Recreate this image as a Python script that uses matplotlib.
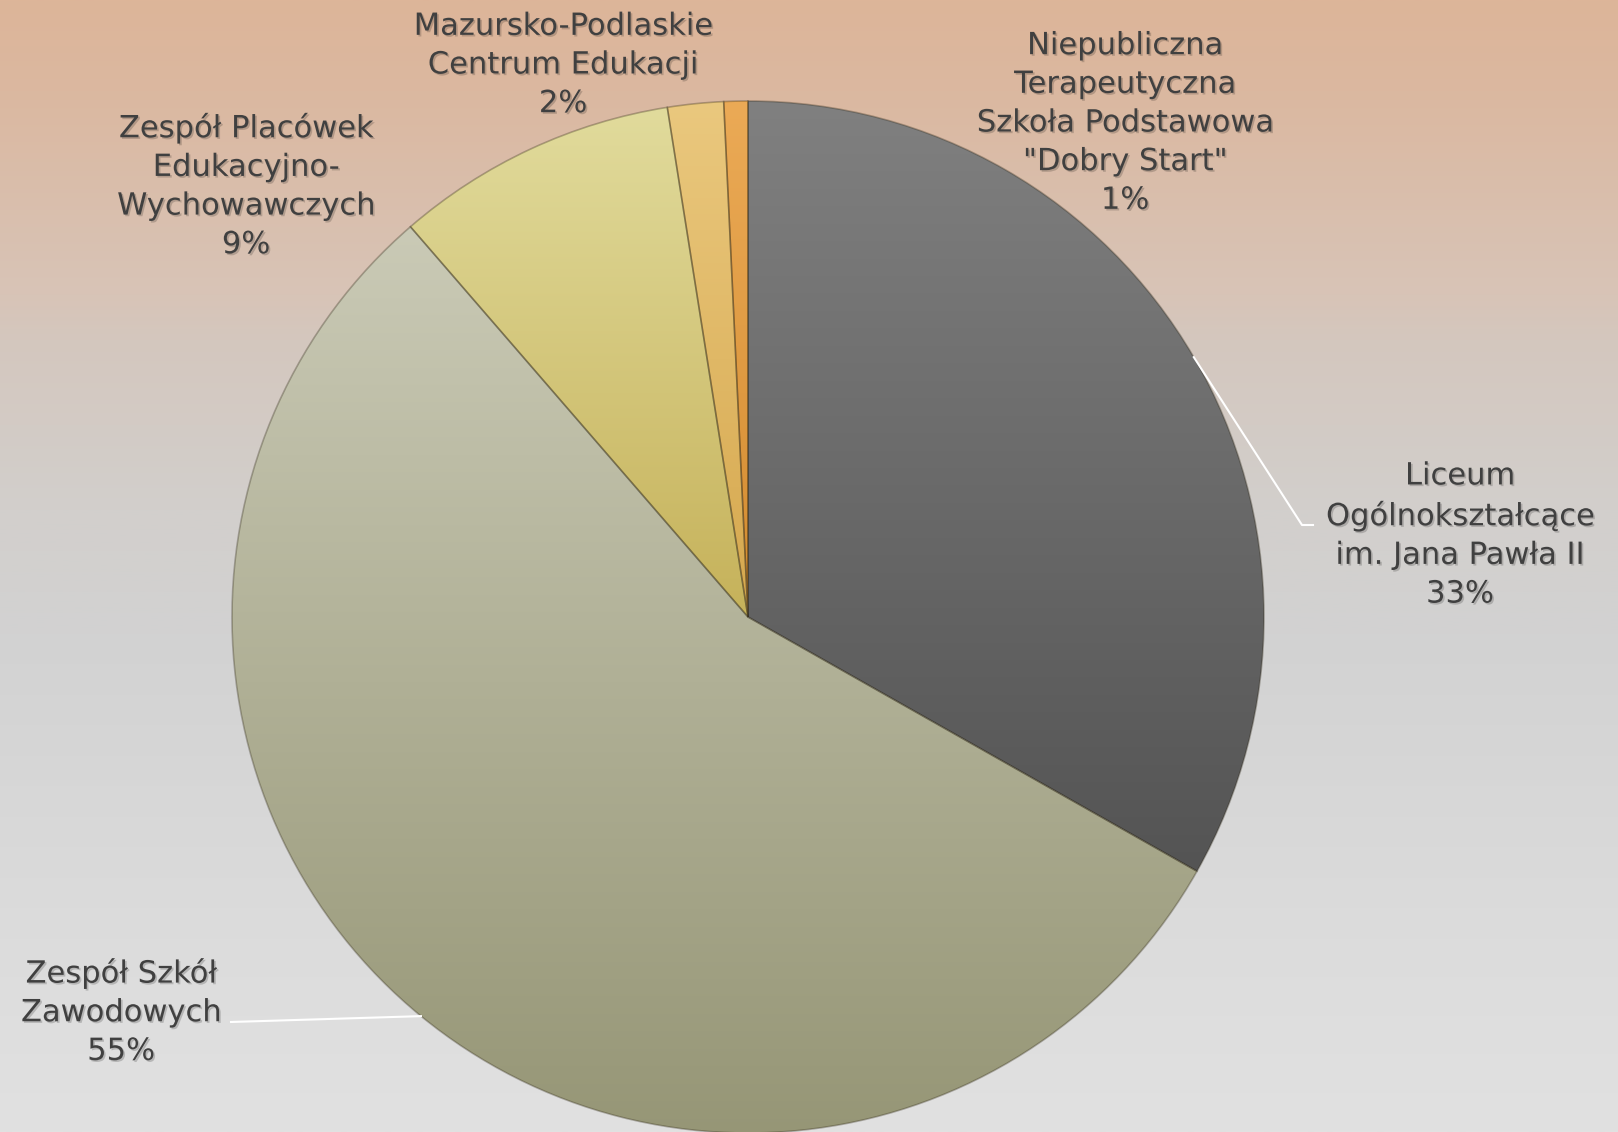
import numpy as np
import matplotlib
matplotlib.use("Agg")
import matplotlib.pyplot as plt
import matplotlib.patheffects as pe

# ---------------- data ----------------
categories = [
    "Liceum\nOgólnokształcące\nim. Jana Pawła II",
    "Zespół Szkół\nZawodowych",
    "Zespół Placówek\nEdukacyjno-\nWychowawczych",
    "Mazursko-Podlaskie\nCentrum Edukacji",
    "Niepubliczna\nTerapeutyczna\nSzkoła Podstawowa\n\"Dobry Start\"",
]
values = [33.2, 55.45, 8.85, 1.75, 0.75]

# gradient colours (top, bottom) for each slice
top_colors = [(128, 128, 128), (202, 202, 182), (225, 219, 156), (234, 200, 126), (235, 170, 86)]
bot_colors = [(84, 84, 84), (150, 150, 118), (198, 178, 90), (214, 168, 78), (212, 140, 48)]

# ---------------- figure ----------------
W, H, DPI = 1618, 1132, 100
CX, CY, R = 748, 617, 516  # pie centre / radius in pixels

fig = plt.figure(figsize=(W / DPI, H / DPI), dpi=DPI)

# background gradient
bg = fig.add_axes([0, 0, 1, 1], zorder=-10)
bg.axis("off")
stops = [0.0, 0.08, 0.26, 0.30, 0.45, 0.56, 0.83, 1.0]
cols = np.array([(221, 181, 153), (219, 184, 160), (216, 196, 183), (212, 199, 190),
                 (210, 207, 204), (210, 210, 210), (220, 220, 220), (225, 225, 225)]) / 255.0
yy = np.linspace(0, 1, 600)
grad = np.stack([np.interp(yy, stops, cols[:, c]) for c in range(3)], axis=-1)[:, None, :]
bg.imshow(grad, aspect="auto", extent=[0, 1, 1, 0])
bg.set_xlim(0, 1)
bg.set_ylim(1, 0)

ax = fig.add_axes([0, 0, 1, 1])
ax.axis("off")
ax.patch.set_alpha(0)

wedges, _ = ax.pie(values, startangle=90, counterclock=False, radius=1.0,
                   center=(0, 0), wedgeprops=dict(linewidth=1.2,
                                                  edgecolor=(0.15, 0.12, 0.05, 0.30)))
ax.set_aspect("auto")

for w, tc, bc in zip(wedges, top_colors, bot_colors):
    verts = w.get_path().vertices
    x0, x1 = verts[:, 0].min(), verts[:, 0].max()
    y0, y1 = verts[:, 1].min(), verts[:, 1].max()
    t = np.linspace(0, 1, 256)[:, None]
    tcn, bcn = np.array(tc) / 255.0, np.array(bc) / 255.0
    img = (tcn[None, :] * (1 - t) + bcn[None, :] * t)[:, None, :]
    im = ax.imshow(img, extent=[x0, x1, y0, y1], origin="upper", aspect="auto",
                   zorder=w.get_zorder() + 0.1, interpolation="bilinear")
    im.set_clip_path(w)
    w.set_zorder(w.get_zorder() + 0.2)
    w.set_facecolor("none")

ax.set_xlim(-CX / R, (W - CX) / R)
ax.set_ylim(-(H - CY) / R, CY / R)


def px2d(px, py):
    return (px - CX) / R, (CY - py) / R


pct = [f"{round(v / sum(values) * 100):d}%" for v in values]

# label block centres (pixels)
label_pos = [(1460, 535), (121, 1012), (246, 186), (563, 65), (1125, 123)]

text_color = "#404040"
shadow = [pe.withSimplePatchShadow(offset=(1.2, -1.2), shadow_rgbFace=(0, 0, 0), alpha=0.18)]

for cat, p, (lx, ly) in zip(categories, pct, label_pos):
    x, y = px2d(lx, ly)
    ax.text(x, y, f"{cat}\n{p}", ha="center", va="center", multialignment="center",
            fontsize=22, color=text_color, linespacing=1.42, path_effects=shadow,
            family="DejaVu Sans", zorder=20)

# leader lines
def edge_point(w):
    ang = np.deg2rad((w.theta1 + w.theta2) / 2)
    return np.cos(ang), np.sin(ang)

ex, ey = edge_point(wedges[0])
kx, ky = px2d(1302, 525)
hx, hy = px2d(1313, 525)
ax.plot([ex, kx, hx], [ey, ky, hy], color="white", lw=1.5, zorder=15)

ex, ey = edge_point(wedges[1])
kx, ky = px2d(231, 1022)
ax.plot([ex, kx], [ey, ky], color="white", lw=1.5, zorder=15)

fig.savefig("out.png", dpi=DPI)
